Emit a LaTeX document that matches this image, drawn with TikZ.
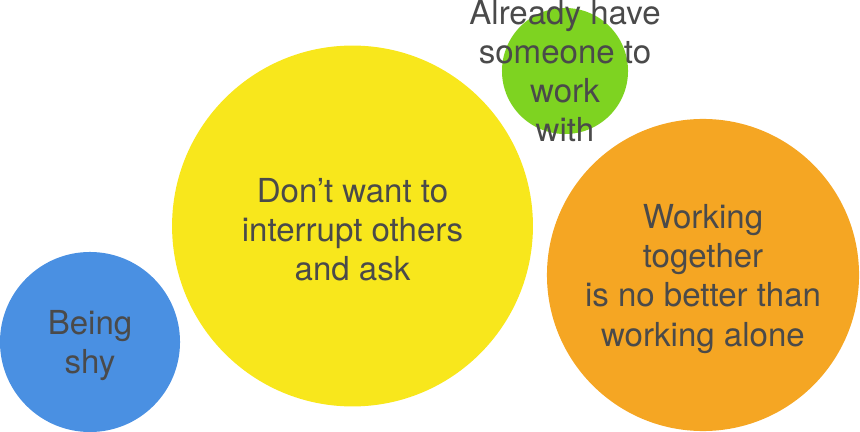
\documentclass[tikz,border=0pt]{standalone}
\usepackage{fontspec}
\setmainfont{TeX Gyre Heros}
\usepackage{xcolor}
\usepackage{tikz}
\usetikzlibrary{positioning}

\definecolor{shyblue}{HTML}{4A90E2}
\definecolor{askyellow}{HTML}{F8E71C}
\definecolor{partnergreen}{HTML}{7ED321}
\definecolor{aloneorange}{HTML}{F5A623}
\definecolor{captiongray}{HTML}{4A4A4A}

\begin{document}
\begin{tikzpicture}[
  x=0.025cm, y=-0.025cm,
  bubble/.style={circle, draw=none, inner sep=0pt},
  caption/.style={align=center, text=captiongray, yshift=-1mm,
                  font=\fontsize{23.5pt}{27.8pt}\selectfont},
]
\useasboundingbox (0,0) rectangle (860,432);

% reasons, sized by weight
\node[bubble, fill=shyblue, minimum size=4.5cm] (shy) at (90,342) {};
\node[bubble, fill=askyellow, minimum size=9.02cm] (ask) at (352.5,226) {};
\node[bubble, fill=partnergreen, minimum size=3.15cm] (partner) at (565,71) {};
\node[bubble, fill=aloneorange, minimum size=7.8cm] (alone) at (703,275) {};

\node[caption] (shytext) at (shy) {Being\\shy};
\node[caption] (asktext) at (ask) {Don’t want to\\interrupt others\\and ask};
\node[caption, yshift=1mm] (partnertext) at (partner)
  {Already have\\someone to\\work\\with};
\node[caption] (alonetext) at (alone)
  {Working\\together\\is no better than\\working alone};
\end{tikzpicture}
\end{document}
